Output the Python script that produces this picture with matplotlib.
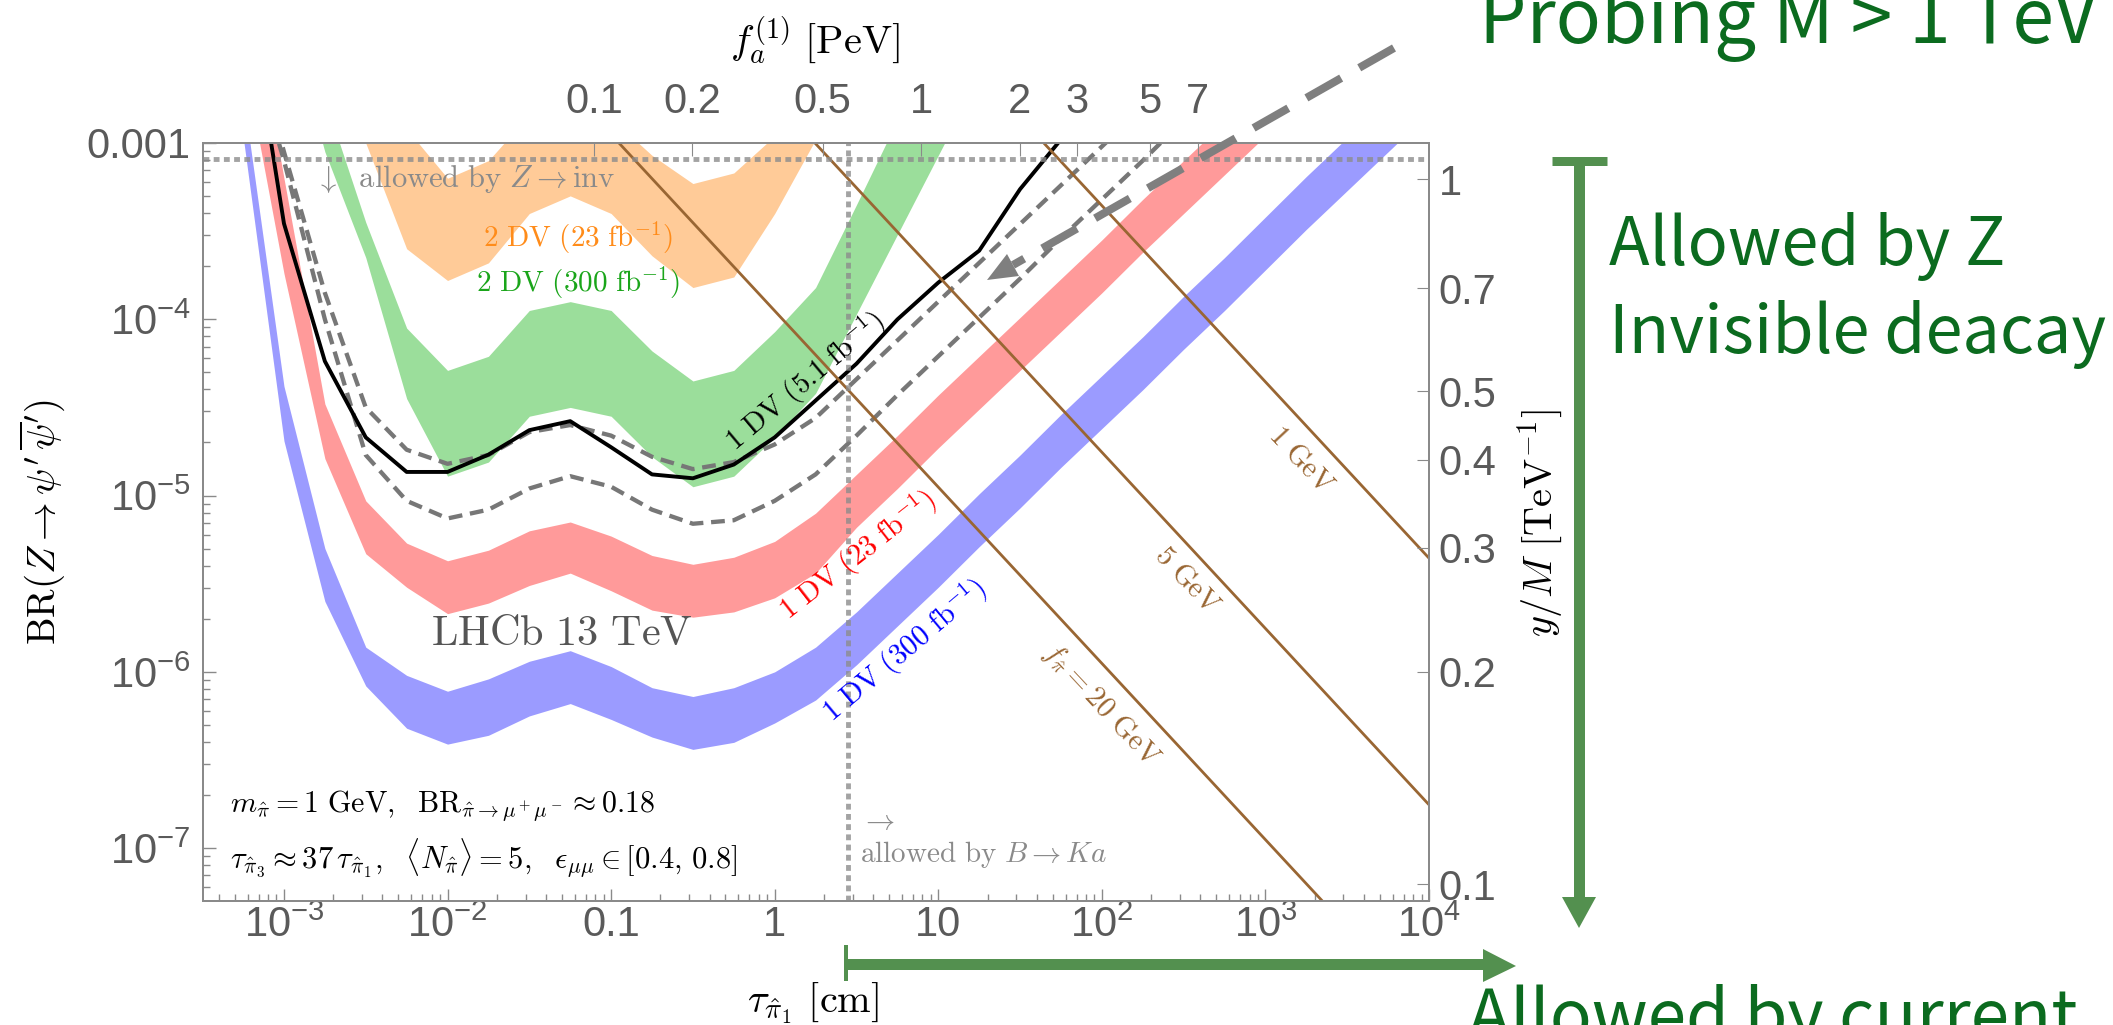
import numpy as np
import matplotlib
matplotlib.use('Agg')
import matplotlib.pyplot as plt
from matplotlib.lines import Line2D
from matplotlib.patches import Polygon
from matplotlib.transforms import IdentityTransform
from matplotlib.ticker import LogLocator, NullFormatter, NullLocator

W, H = 2113, 1025

plt.rcParams['font.family'] = ['Liberation Sans', 'DejaVu Sans']
plt.rcParams['mathtext.fontset'] = 'custom'
plt.rcParams['mathtext.rm'] = 'Liberation Sans'
plt.rcParams['mathtext.it'] = 'Liberation Sans:italic'
plt.rcParams['mathtext.bf'] = 'Liberation Sans:bold'

# log10 of decay length tau_pi1 [cm], grid of the curves
log_tau = [-3.25, -3.0, -2.75, -2.5, -2.25, -2.0, -1.75, -1.5, -1.25, -1.0,
           -0.75, -0.5, -0.25, 0.0, 0.25, 0.5, 0.75, 1.0, 1.25, 1.5,
           1.75, 2.0, 2.25, 2.5, 2.75, 3.0, 3.25, 3.5, 3.75, 4.0]

# log10 BR limits (start index into log_tau)
blue_hi = [-2.72, -4.38, -5.30, -5.86, -6.02, -6.11, -6.04, -5.94, -5.88, -5.97,
           -6.09, -6.14, -6.09, -6.00, -5.86, -5.66, -5.44, -5.22, -4.99, -4.77,
           -4.54, -4.32, -4.10, -3.87, -3.65, -3.42, -3.19, -2.97, -2.75, -2.53]
blue_lo = [-2.96, -4.69, -5.60, -6.08, -6.32, -6.41, -6.36, -6.25, -6.18, -6.27,
           -6.37, -6.44, -6.40, -6.29, -6.16, -5.96, -5.74, -5.52, -5.29, -5.07,
           -4.84, -4.62, -4.40, -4.17, -3.95, -3.72, -3.49, -3.27, -3.05, -2.83]
red_hi = [-1.9, -3.20, -4.48, -5.03, -5.27, -5.37, -5.31, -5.20, -5.15, -5.23,
          -5.34, -5.39, -5.35, -5.26, -5.10, -4.88, -4.66, -4.43, -4.21, -3.99,
          -3.77, -3.55, -3.32, -3.10, -2.88, -2.66]
red_lo = [-2.5, -3.74, -4.79, -5.33, -5.52, -5.67, -5.61, -5.51, -5.44, -5.54,
          -5.65, -5.69, -5.66, -5.58, -5.44, -5.18, -4.96, -4.73, -4.51, -4.29,
          -4.07, -3.85, -3.62, -3.40, -3.18, -2.96]
black_1dv = [-2.0, -3.457, -4.238, -4.670, -4.866, -4.866, -4.768, -4.629, -4.578, -4.726,
             -4.880, -4.902, -4.824, -4.670, -4.461, -4.252, -4.001, -3.792, -3.611, -3.262,
             -2.98]
dash_a = [-2.2, -3.05, -3.85, -4.50, -4.74, -4.82, -4.77, -4.64, -4.60, -4.66,
          -4.78, -4.85, -4.81, -4.71, -4.56, -4.34, -4.12, -3.90, -3.68, -3.46,
          -3.24, -3.02, -2.80]
dash_b = [-2.3, -3.1, -4.0, -4.77, -5.03, -5.13, -5.08, -4.96, -4.89, -4.95,
          -5.08, -5.16, -5.14, -5.03, -4.88, -4.66, -4.43, -4.21, -3.99, -3.77,
          -3.54, -3.32, -3.10, -2.87]
green_start = 1
green_hi = [-1.8, -2.75, -3.45, -4.05, -4.29, -4.21, -3.95, -3.90, -3.95, -4.18,
            -4.35, -4.29, -4.07, -3.82, -3.35, -2.87, -2.40, -1.95]
green_lo = [-2.2, -3.05, -3.65, -4.45, -4.89, -4.81, -4.55, -4.50, -4.55, -4.78,
            -4.95, -4.89, -4.67, -4.42, -3.97, -3.52, -3.07, -2.62]
orange_start = 2
orange_hi = [-1.8, -2.4, -2.92, -3.20, -3.10, -2.84, -2.78, -2.86, -3.07, -3.23,
             -3.17, -2.96, -2.5, -2.0]
orange_lo = [-2.4, -3.0, -3.60, -3.78, -3.68, -3.40, -3.30, -3.40, -3.64, -3.82,
             -3.76, -3.40, -2.98, -2.5]

# constant f_pi lines: BR * tau = const
fpi_labels = [r'$\mathrm{1\ GeV}$', r'$\mathrm{5\ GeV}$', r'$f_{\hat\pi} = 20\ \mathrm{GeV}$']
fpi_logc = [-1.355, -2.754, -3.952]

z_inv_limit = 8.1e-4   # BR(Z -> inv) bound
bka_limit = 2.8        # tau bound from B -> K a [cm]

x_ticks = [1e-3, 1e-2, 0.1, 1, 10, 1e2, 1e3, 1e4]
x_labels = [r'$10^{-3}$', r'$10^{-2}$', '0.1', '1', '10', r'$10^{2}$', r'$10^{3}$', r'$10^{4}$']
y_ticks = [1e-3, 1e-4, 1e-5, 1e-6, 1e-7]
y_labels = ['0.001', r'$10^{-4}$', r'$10^{-5}$', r'$10^{-6}$', r'$10^{-7}$']
fa_ticks = [0.1, 0.2, 0.5, 1, 2, 3, 5, 7]       # PeV
fa_tau = 7.85                                    # tau [cm] = fa_tau * f^2
yM_ticks = [1, 0.7, 0.5, 0.4, 0.3, 0.2, 0.1]     # TeV^-1
yM_norm = 1.125                                  # y/M at BR = 1e-3

lt = np.array(log_tau)
tau = 10 ** lt

fig = plt.figure(figsize=(W / 100, H / 100), dpi=100)
ax = fig.add_axes([203 / W, 1 - 901 / H, (1429 - 203) / W, (901 - 143) / H])
ax.set_xscale('log')
ax.set_yscale('log')
ax.set_xlim(10 ** -3.495, 1e4)
ax.set_ylim(10 ** -7.3, 1e-3)


def band(lo, hi, start, color):
    x = tau[start:start + len(lo)]
    ax.fill_between(x, 10 ** np.array(lo), 10 ** np.array(hi), color=color, lw=0, zorder=1)


band(orange_lo, orange_hi, orange_start, '#ffcb98')
band(green_lo, green_hi, green_start, '#9bde9b')
band(red_lo, red_hi, 0, '#ff9a9a')
band(blue_lo, blue_hi, 0, '#9b9bff')

for d in (dash_a, dash_b):
    ax.plot(tau[:len(d)], 10 ** np.array(d), color='#777777', lw=3.1, ls=(0, (3.2, 1.8)), zorder=3)
ax.plot(tau[:len(black_1dv)], 10 ** np.array(black_1dv), color='black', lw=2.8, zorder=4)

tt = np.array([1e-4, 1e5])
for c in fpi_logc:
    ax.plot(tt, 10 ** c / tt, color='#996633', lw=2.0, zorder=5)

ax.axhline(z_inv_limit, color='#8c8c8c', lw=3.5, ls=(0, (1.2, 0.9)), alpha=0.8, zorder=6)
ax.axvline(bka_limit, color='#8c8c8c', lw=3.5, ls=(0, (1.2, 0.9)), alpha=0.8, zorder=6)

# axes style
for s in ax.spines.values():
    s.set_color('#8a8a8a')
    s.set_linewidth(1.2)
ax.set_xticks(x_ticks, x_labels)
ax.set_yticks(y_ticks, y_labels)
ax.xaxis.set_minor_locator(LogLocator(subs=np.arange(2, 10)))
ax.yaxis.set_minor_locator(LogLocator(subs=np.arange(2, 10)))
ax.xaxis.set_minor_formatter(NullFormatter())
ax.yaxis.set_minor_formatter(NullFormatter())
ax.tick_params(which='both', direction='in', color='#8a8a8a', labelcolor='#5a5a5a', labelsize=30)
ax.tick_params(which='major', length=9, width=1)
ax.tick_params(which='minor', length=5, width=1)
ax.tick_params(axis='x', pad=3)
ax.tick_params(axis='y', pad=9)

axT = ax.twiny()
axT.set_xscale('log')
axT.set_xlim(ax.get_xlim())
axT.set_xticks([fa_tau * f ** 2 for f in fa_ticks], [f'{f:g}' for f in fa_ticks])
axT.xaxis.set_minor_locator(NullLocator())
axT.tick_params(direction='in', color='#8a8a8a', labelcolor='#5a5a5a', labelsize=30, length=9, pad=15)

axR = ax.twinx()
axR.set_yscale('log')
axR.set_ylim(ax.get_ylim())
axR.set_yticks([(v / yM_norm) ** 4 * 1e-3 for v in yM_ticks], [f'{v:g}' for v in yM_ticks])
axR.yaxis.set_minor_locator(NullLocator())
axR.tick_params(direction='in', color='#8a8a8a', labelcolor='#5a5a5a', labelsize=30, length=9, pad=7)
for a in (axT, axR):
    for s in a.spines.values():
        s.set_color('#8a8a8a')
        s.set_linewidth(1.2)


def px(x, y):
    return x / W, 1 - y / H


def ftext(x, y, s, size, color='black', rot=0, ha='center', va='center', mf='cm', **kw):
    fig.text(*px(x, y), s, fontsize=size, color=color, rotation=rot, ha=ha, va=va,
             rotation_mode='anchor', math_fontfamily=mf, **kw)


# labels inside the plot (Computer Modern)
ftext(315, 179, r'$\downarrow\ \ \mathrm{allowed\ by}\ Z \rightarrow \mathrm{inv}$', 22, '#8a8a8a', ha='left')
ftext(578, 238, r'$\mathrm{2\ DV\ (23\ fb}^{-1}\mathrm{)}$', 21, '#ff8c1a')
ftext(578, 283, r'$\mathrm{2\ DV\ (300\ fb}^{-1}\mathrm{)}$', 21, '#1aa51a')
ftext(805, 382, r'$\mathrm{1\ DV\ (5.1\ fb}^{-1}\mathrm{)}$', 21, 'black', rot=40)
ftext(858, 555, r'$\mathrm{1\ DV\ (23\ fb}^{-1}\mathrm{)}$', 21, '#ff0000', rot=38)
ftext(905, 651, r'$\mathrm{1\ DV\ (300\ fb}^{-1}\mathrm{)}$', 21, '#0000ff', rot=40)
ftext(562, 634, r'$\mathrm{LHCb\ 13\ TeV}$', 30.5, '#555555')
ftext(230, 806, r'$m_{\hat\pi} = 1\ \mathrm{GeV},\ \ \mathrm{BR}_{\hat\pi\to\mu^+\mu^-} \approx 0.18$', 21.5, ha='left')
ftext(230, 858, r'$\tau_{\hat\pi_3} \approx 37\,\tau_{\hat\pi_1},\ \ \langle N_{\hat\pi}\rangle = 5,\ \ '
      r'\epsilon_{\mu\mu} \in [0.4,\, 0.8]$', 22, ha='left')
ftext(860, 821, r'$\rightarrow$', 21, '#8a8a8a', ha='left')
ftext(860, 855, r'$\mathrm{allowed\ by}\ B \rightarrow Ka$', 21, '#8a8a8a', ha='left')
brown_pos = [(1302, 460), (1188, 580), (1101, 705)]
for (x, y), lab in zip(brown_pos, fpi_labels):
    ftext(x, y, lab, 21, '#996633', rot=-47)

# axis titles
ftext(815, 40, r'$f_a^{(1)}\ [\mathrm{PeV}]$', 29)
ftext(813, 1003, r'$\tau_{\hat\pi_1}\ [\mathrm{cm}]$', 29)
ftext(42, 522, r"$\mathrm{BR}(Z \to \psi'\,\overline{\psi}')$", 28, rot=90)
ftext(1540, 523, r'$y/M\ [\mathrm{TeV}^{-1}]$', 29, rot=90)

# overlay annotations (pixel coordinates)
idt = IdentityTransform()
green = '#53904f'


def seg(x0, y0, x1, y1, lw, color, ls='-'):
    fig.add_artist(Line2D([x0, x1], [H - y0, H - y1], transform=idt, lw=lw * 0.72,
                          color=color, ls=ls, solid_capstyle='butt', dash_capstyle='butt'))


def head(pts, color):
    fig.add_artist(Polygon([(x, H - y) for x, y in pts], closed=True, transform=idt,
                           facecolor=color, edgecolor='none'))


seg(1579, 161, 1579, 898, 11, green)
seg(1552, 161, 1607, 161, 9, green)
head([(1562, 897), (1596, 897), (1579, 928)], green)
seg(846, 964, 1484, 964, 11, green)
seg(846, 945, 846, 981, 4, green)
head([(1483, 949), (1483, 982), (1516, 966)], green)

seg(1394, 48, 1013, 265, 8, '#7f7f7f', ls=(0, (5, 2.6)))
head([(987, 280), (1019, 276), (1007, 254)], '#7f7f7f')

tgreen = '#0b6b1f'
for x, y, s, fs in [(1479, 43, 'Probing M > 1 TeV', 54), (1609, 265, 'Allowed by Z', 48),
                    (1609, 353, 'Invisible deacay', 48), (1468, 1040, 'Allowed by current', 50)]:
    fig.text(*px(x, y), s, fontsize=fs, color=tgreen, ha='left', va='baseline',
             family=['Noto Sans CJK SC', 'DejaVu Sans'])

fig.savefig('out.png', dpi=100)
